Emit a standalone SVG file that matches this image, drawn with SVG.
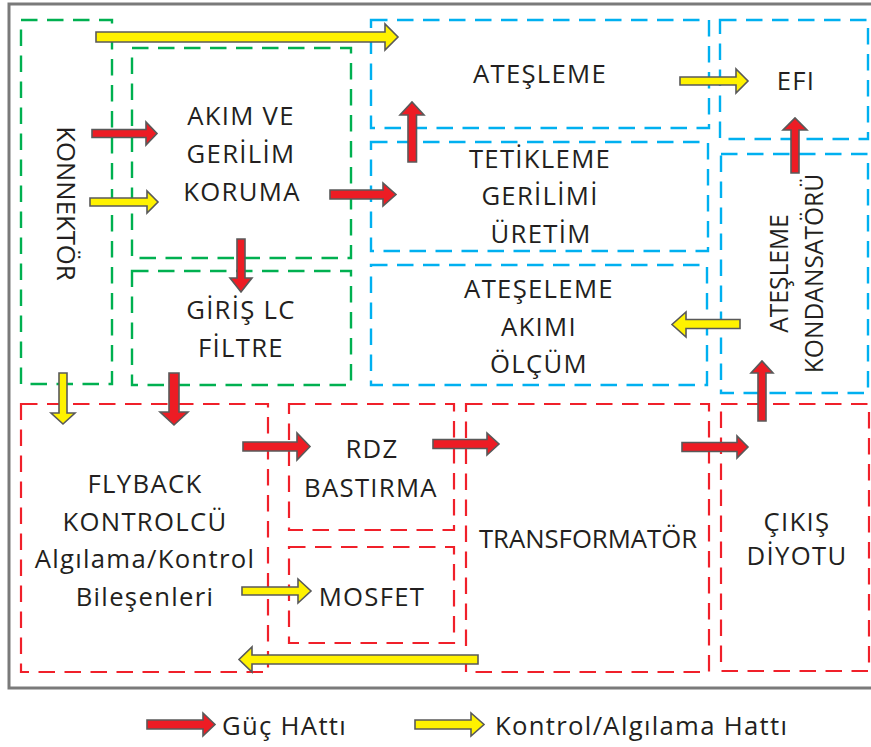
<svg xmlns="http://www.w3.org/2000/svg" width="871" height="747" viewBox="0 0 871 747">
  <style>
    .frame { fill: none; stroke: #7a7a7a; stroke-width: 3; }
    .box { fill: none; stroke-width: 2.4; stroke-dasharray: 16.5 9.5; }
    .green { stroke: #00b050; }
    .blue { stroke: #00b0f0; }
    .red { stroke: #f0202a; stroke-width: 2.2; }
    text { font-family: "Open Sans", "Noto Sans", "DejaVu Sans", sans-serif; font-size: 25.7px; fill: #231f20; text-anchor: middle; letter-spacing: 1.3px; }
    .tight { letter-spacing: 0; }
    .rot { font-size: 24.6px; letter-spacing: 0; }
    .legend { text-anchor: start; }
    .pw { fill: #ed1c24; stroke: #595959; stroke-width: 1.6; stroke-linejoin: miter; }
    .ctl { fill: #fff200; stroke: #595959; stroke-width: 1.6; stroke-linejoin: miter; }
  </style>

  <rect class="frame" x="9" y="4" width="880" height="684"/>

  <!-- input side -->
  <g id="konnektor">
    <rect class="box green" x="21" y="20" width="91" height="364"/>
    <text class="tight" transform="translate(57,203.5) rotate(90)">KONNEKTÖR</text>
  </g>
  <g id="akim-gerilim-koruma">
    <rect class="box green" x="132" y="48" width="219" height="210"/>
    <text x="241" y="125">AKIM VE</text>
    <text x="241" y="163">GERİLİM</text>
    <text x="242" y="201">KORUMA</text>
  </g>
  <g id="giris-lc-filtre">
    <rect class="box green" x="132" y="271" width="219" height="114"/>
    <text x="241" y="319">GİRİŞ LC</text>
    <text x="241" y="357">FİLTRE</text>
  </g>

  <!-- ignition side -->
  <g id="ateslem">
    <rect class="box blue" x="371" y="20" width="338" height="108"/>
    <text x="540" y="83">ATEŞLEME</text>
  </g>
  <g id="efi">
    <rect class="box blue" x="720" y="20" width="148" height="119"/>
    <text x="796" y="90">EFI</text>
  </g>
  <g id="tetikleme">
    <rect class="box blue" x="371" y="142" width="337" height="109"/>
    <text x="540" y="168">TETİKLEME</text>
    <text x="540" y="205">GERİLİMİ</text>
    <text x="541" y="243">ÜRETİM</text>
  </g>
  <g id="akim-olcum">
    <rect class="box blue" x="371" y="265" width="336" height="120"/>
    <text x="539" y="298">ATEŞELEME</text>
    <text x="539" y="336">AKIMI</text>
    <text x="539" y="373">ÖLÇÜM</text>
  </g>
  <g id="kondansator">
    <rect class="box blue" x="721" y="154" width="147" height="239"/>
    <text class="rot" transform="translate(788,273.5) rotate(-90)">ATEŞLEME</text>
    <text class="rot" transform="translate(823,273.5) rotate(-90)">KONDANSATÖRÜ</text>
  </g>

  <!-- power stage -->
  <g id="flyback">
    <rect class="box red" x="21" y="404" width="247" height="268"/>
    <text x="145" y="493">FLYBACK</text>
    <text x="145" y="531">KONTROLCÜ</text>
    <text x="145" y="568">Algılama/Kontrol</text>
    <text x="145" y="606">Bileşenleri</text>
  </g>
  <g id="rdz">
    <rect class="box red" x="289" y="404" width="165" height="126"/>
    <text x="372" y="458">RDZ</text>
    <text x="371" y="497">BASTIRMA</text>
  </g>
  <g id="mosfet">
    <rect class="box red" x="289" y="547" width="165" height="96"/>
    <text x="372" y="606">MOSFET</text>
  </g>
  <g id="transformator">
    <rect class="box red" x="466" y="404" width="243" height="268"/>
    <text class="tight" x="588" y="548">TRANSFORMATÖR</text>
  </g>
  <g id="cikis-diyotu">
    <rect class="box red" x="721" y="404" width="148" height="267"/>
    <text x="797" y="531">ÇIKIŞ</text>
    <text x="797" y="565">DİYOTU</text>
  </g>

  <!-- block arrows: red = power path, yellow = control / sensing path -->
  <g id="connectors">
    <polygon class="ctl" points="96,32 385,32 385,24 398,37 385,50 385,42 96,42"/>
    <polygon class="pw" points="92,129.5 146,129.5 146,122 157,133.5 146,145 146,137.5 92,137.5"/>
    <polygon class="ctl" points="90,198 147,198 147,191 158,202 147,213 147,206 90,206"/>
    <polygon class="pw" points="330,190 383,190 383,183 396,194.5 383,206 383,199 330,199"/>
    <polygon class="pw" points="408,162 408,115 400,115 412,102 424,115 416.5,115 416.5,162"/>
    <polygon class="ctl" points="680,77 736,77 736,69 748,81 736,93 736,85 680,85"/>
    <polygon class="pw" points="791,173 791,130 783,130 795,118 807,130 799,130 799,173"/>
    <polygon class="pw" points="237,239 245,239 245,278 252,278 241,292 230,278 237,278"/>
    <polygon class="ctl" points="59,373 67,373 67,413 75,413 63,424 51,413 59,413"/>
    <polygon class="pw" points="169,373 179,373 179,412 188,412 174,425 160,412 169,412"/>
    <polygon class="pw" points="243,442 297,442 297,433 310,446.5 297,460 297,451 243,451"/>
    <polygon class="pw" points="433,439.5 487,439.5 487,433 499,444 487,455 487,448.5 433,448.5"/>
    <polygon class="pw" points="682,442.5 737,442.5 737,436 748,447 737,458 737,451.5 682,451.5"/>
    <polygon class="pw" points="758,421 758,373 751,373 762,361 773,373 766,373 766,421"/>
    <polygon class="ctl" points="740,319.5 686,319.5 686,312 672,324.5 686,337 686,328.5 740,328.5"/>
    <polygon class="ctl" points="242,587 298,587 298,579 311,591 298,603 298,595 242,595"/>
    <polygon class="ctl" points="478,655 252,655 252,647 239,659.5 252,672 252,664 478,664"/>
  </g>

  <!-- key -->
  <g id="legend">
    <polygon class="pw" points="147,720 203,720 203,713 215,724.5 203,736 203,729 147,729"/>
    <text class="legend" x="222" y="735">Güç HAttı</text>
    <polygon class="ctl" points="415,720 471,720 471,713 484,724.5 471,736 471,729 415,729"/>
    <text class="legend" x="495" y="735">Kontrol/Algılama Hattı</text>
  </g>
</svg>
